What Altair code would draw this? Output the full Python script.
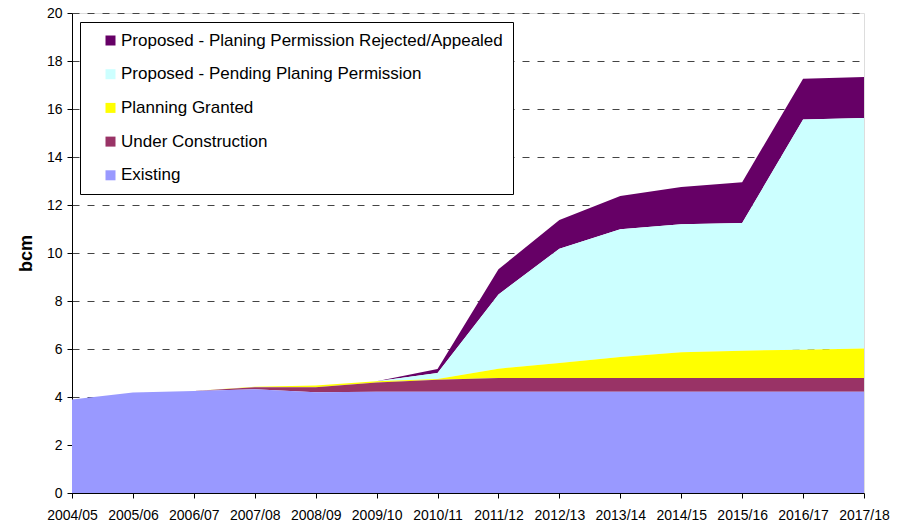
import altair as alt
import pandas as pd

# Gas storage capacity (bcm) by project status and year
years = ["2004/05", "2005/06", "2006/07", "2007/08", "2008/09", "2009/10", "2010/11",
         "2011/12", "2012/13", "2013/14", "2014/15", "2015/16", "2016/17", "2017/18"]

existing = [3.90, 4.19, 4.25, 4.32, 4.20, 4.22, 4.22, 4.22, 4.22, 4.22, 4.22, 4.22, 4.22, 4.22]
under_construction = [0.00, 0.00, 0.00, 0.09, 0.21, 0.38, 0.50, 0.57, 0.57, 0.57, 0.57, 0.57, 0.57, 0.57]
planning_granted = [0.00, 0.00, 0.00, 0.02, 0.07, 0.06, 0.03, 0.39, 0.63, 0.88, 1.07, 1.14, 1.18, 1.23]
pending = [0.00, 0.00, 0.00, 0.00, 0.00, 0.00, 0.25, 3.09, 4.76, 5.32, 5.34, 5.32, 9.59, 9.61]
rejected = [0.00, 0.00, 0.00, 0.00, 0.00, 0.00, 0.17, 1.05, 1.20, 1.39, 1.55, 1.70, 1.70, 1.70]

series_names = [
    "Proposed - Planing Permission Rejected/Appealed",
    "Proposed - Pending Planing Permission",
    "Planning Granted",
    "Under Construction",
    "Existing",
]
series_values = [rejected, pending, planning_granted, under_construction, existing]
series_colors = ["#660066", "#CCFFFF", "#FFFF00", "#993366", "#9999FF"]

rows = []
for idx, (name, vals) in enumerate(zip(series_names, series_values)):
    stack_pos = len(series_names) - 1 - idx  # Existing sits at the bottom
    for yr, v in zip(years, vals):
        rows.append({"year": yr, "status": name, "bcm": v, "stack": stack_pos})
df = pd.DataFrame(rows)

font = "Liberation Sans"

chart = alt.Chart(df).mark_area(interpolate="linear").encode(
    x=alt.X("year:O", sort=years, title=None,
            scale=alt.Scale(padding=0),
            axis=alt.Axis(labelAngle=0, labelFontSize=14, labelFont=font,
                          labelColor="black", tickSize=5, tickColor="black",
                          labelPadding=10, domainColor="black", grid=False)),
    y=alt.Y("bcm:Q", stack="zero", title="bcm",
            scale=alt.Scale(domain=[0, 20], nice=False),
            axis=alt.Axis(values=list(range(0, 21, 2)), labelFontSize=14, labelFont=font,
                          labelColor="black", tickSize=5, tickColor="black",
                          labelPadding=5, domainColor="black",
                          grid=True, gridColor="#444444", gridDash=[7, 8], gridWidth=1,
                          titleFontSize=18, titleFont=font, titleFontWeight="bold",
                          titleColor="black", titleX=-37, titleY=240)),
    color=alt.Color("status:N",
                    scale=alt.Scale(domain=series_names, range=series_colors),
                    legend=alt.Legend(title=None, orient="none", legendX=8, legendY=9,
                                      symbolType="square", symbolSize=100,
                                      symbolStrokeWidth=0, symbolOpacity=1,
                                      labelFontSize=17, labelFont=font, labelColor="black",
                                      labelLimit=600, labelOffset=2,
                                      rowPadding=15.7, padding=10, symbolOffset=12,
                                      strokeColor="black", fillColor="white")),
    order=alt.Order("stack:Q"),
).properties(
    width=792,
    height=480,
    autosize=alt.AutoSizeParams(type="none"),
    padding={"left": 72, "top": 13, "right": 44, "bottom": 29},
).configure_view(
    stroke="#808080", strokeWidth=1
).configure(background="white")

chart.save("out.html", embed_options={"renderer": "svg", "actions": False})
